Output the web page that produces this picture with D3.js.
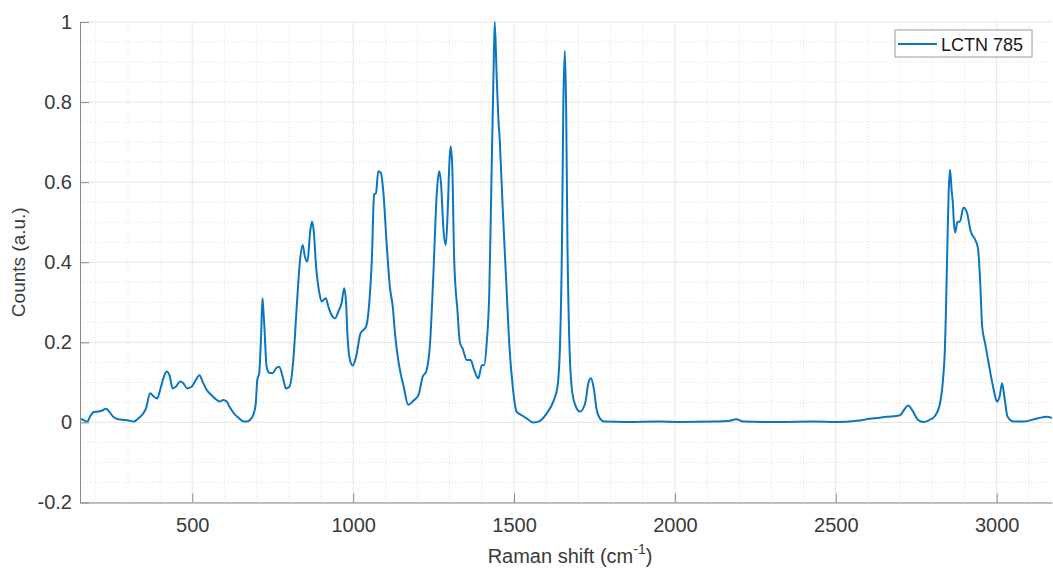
<!DOCTYPE html>
<html>
<head>
<meta charset="utf-8">
<script src="https://cdn.jsdelivr.net/npm/d3@7"></script>
<style>
  body { margin: 0; background: #fff; }
  svg { display: block; font-family: "Liberation Sans", Arial, Helvetica, sans-serif; }
</style>
</head>
<body>
<svg width="1053" height="570"></svg>
<script>
// Raman shift (cm-1) and normalised counts
const shift = [151, 161, 174, 182, 194, 208, 218, 232, 242, 254, 270, 291, 306, 319, 332, 348, 356, 369, 381, 391,
  400, 410, 420, 429, 439, 449, 462, 472, 484, 498, 511, 522, 532, 545, 560, 576, 586, 596, 607, 617,
  630, 643, 657, 669, 679, 690, 697, 702, 708, 714, 718, 721, 724, 731, 739, 750, 760, 770, 781, 791,
  802, 814, 824, 835, 843, 850, 858, 866, 872, 878, 884, 895, 902, 915, 923, 933, 944, 954, 964, 972,
  978, 982, 990, 999, 1009, 1023, 1032, 1040, 1050, 1058, 1065, 1071, 1078, 1086, 1094, 1104, 1114, 1123, 1130, 1140,
  1148, 1156, 1171, 1187, 1203, 1216, 1227, 1239, 1249, 1260, 1267, 1273, 1280, 1288, 1294, 1299, 1303, 1308, 1314, 1324,
  1332, 1340, 1353, 1365, 1376, 1389, 1400, 1407, 1415, 1423, 1430, 1436, 1440, 1446, 1451, 1456, 1465, 1475, 1485, 1496,
  1508, 1524, 1539, 1560, 1581, 1601, 1622, 1635, 1643, 1649, 1653, 1658, 1662, 1666, 1672, 1679, 1690, 1705, 1721, 1731,
  1739, 1747, 1757, 1767, 1780, 1850, 1950, 2016, 2119, 2171, 2190, 2213, 2327, 2430, 2503, 2565, 2606, 2658, 2700, 2712,
  2725, 2738, 2756, 2772, 2791, 2808, 2824, 2834, 2839, 2842, 2847, 2851, 2855, 2860, 2864, 2867, 2871, 2878, 2886, 2897,
  2908, 2919, 2934, 2942, 2949, 2955, 2964, 2975, 2991, 3001, 3009, 3017, 3024, 3034, 3053, 3084, 3126, 3157, 3175]
const counts = [0.01, 0.006, 0.002, 0.014, 0.026, 0.027, 0.029, 0.034, 0.027, 0.014, 0.008, 0.006, 0.004, 0.002, 0.01, 0.023, 0.035, 0.073, 0.064, 0.06,
  0.081, 0.11, 0.127, 0.118, 0.085, 0.089, 0.102, 0.098, 0.085, 0.089, 0.106, 0.118, 0.102, 0.081, 0.068, 0.056, 0.052, 0.056, 0.052, 0.037,
  0.022, 0.012, 0.003, 0.002, 0.006, 0.02, 0.045, 0.106, 0.123, 0.22, 0.31, 0.28, 0.239, 0.139, 0.124, 0.123, 0.135, 0.139, 0.114, 0.085,
  0.089, 0.156, 0.281, 0.406, 0.443, 0.414, 0.402, 0.473, 0.502, 0.473, 0.398, 0.323, 0.302, 0.31, 0.289, 0.268, 0.26, 0.277, 0.298, 0.335,
  0.298, 0.223, 0.156, 0.142, 0.164, 0.223, 0.231, 0.239, 0.298, 0.406, 0.568, 0.573, 0.627, 0.623, 0.573, 0.448, 0.339, 0.289, 0.223, 0.156,
  0.12, 0.093, 0.044, 0.054, 0.068, 0.114, 0.127, 0.198, 0.364, 0.573, 0.627, 0.598, 0.489, 0.443, 0.531, 0.648, 0.689, 0.639, 0.406, 0.281,
  0.198, 0.185, 0.156, 0.156, 0.131, 0.11, 0.143, 0.143, 0.198, 0.323, 0.614, 0.864, 1.0, 0.864, 0.764, 0.698, 0.531, 0.364, 0.198, 0.089,
  0.027, 0.018, 0.01, 0.0, 0.004, 0.022, 0.052, 0.089, 0.198, 0.448, 0.78, 0.928, 0.78, 0.448, 0.198, 0.089, 0.044, 0.027, 0.048, 0.098,
  0.11, 0.089, 0.031, 0.01, 0.002, 0.001, 0.002, 0.001, 0.002, 0.004, 0.008, 0.002, 0.001, 0.002, 0.001, 0.004, 0.009, 0.014, 0.018, 0.031,
  0.042, 0.03, 0.006, 0.001, 0.006, 0.016, 0.048, 0.114, 0.181, 0.264, 0.45, 0.58, 0.631, 0.58, 0.545, 0.5, 0.474, 0.5, 0.502, 0.537,
  0.523, 0.478, 0.455, 0.435, 0.348, 0.239, 0.198, 0.148, 0.081, 0.052, 0.064, 0.098, 0.064, 0.014, 0.002, 0.002, 0.01, 0.014, 0.01]

const xTicks = [500, 1000, 1500, 2000, 2500, 3000]
const yTicks = [-0.2, 0, 0.2, 0.4, 0.6, 0.8, 1]
const seriesName = 'LCTN 785'

const svg = d3.select('svg')
const plotLeft = 80
const plotRight = 1052
const plotTop = 22
const plotBottom = 502.5

const xScale = d3.scaleLinear()
  .domain([151, 3172])
  .range([plotLeft, plotRight])

const yScale = d3.scaleLinear()
  .domain([-0.2, 1])
  .range([plotBottom, plotTop])

// minor grid (dotted): every 100 cm-1 and every 0.05
const xMinor = d3.range(200, 3200, 100).filter(d => d % 500 !== 0 && xScale(d) <= plotRight)
const yMinor = d3.range(-3, 20).filter(k => k % 4 !== 0).map(k => k * 0.05)

const grid = svg.append('g').attr('class', 'grid')

grid.selectAll('.xminor')
  .data(xMinor)
  .enter().append('line')
  .attr('x1', d => xScale(d)).attr('x2', d => xScale(d))
  .attr('y1', plotTop).attr('y2', plotBottom)
  .style('stroke', '#e2e2e2')
  .style('stroke-dasharray', '1,2')

grid.selectAll('.yminor')
  .data(yMinor)
  .enter().append('line')
  .attr('x1', plotLeft).attr('x2', plotRight)
  .attr('y1', d => yScale(d)).attr('y2', d => yScale(d))
  .style('stroke', '#e2e2e2')
  .style('stroke-dasharray', '1,2')

// major grid
grid.selectAll('.xmajor')
  .data(xTicks)
  .enter().append('line')
  .attr('x1', d => xScale(d)).attr('x2', d => xScale(d))
  .attr('y1', plotTop).attr('y2', plotBottom)
  .style('stroke', '#e6e6e6')

grid.selectAll('.ymajor')
  .data(yTicks)
  .enter().append('line')
  .attr('x1', plotLeft).attr('x2', plotRight)
  .attr('y1', d => yScale(d)).attr('y2', d => yScale(d))
  .style('stroke', '#e6e6e6')

// spectrum
svg.append('clipPath').attr('id', 'plot-clip')
  .append('rect')
  .attr('x', plotLeft).attr('y', plotTop - 2)
  .attr('width', plotRight - plotLeft).attr('height', plotBottom - plotTop + 2)

const line = d3.line()
  .x(i => xScale(shift[i]))
  .y(i => yScale(counts[i]))
  .curve(d3.curveMonotoneX)

svg.append('path')
  .attr('clip-path', 'url(#plot-clip)')
  .attr('d', line(d3.range(shift.length)))
  .style('fill', 'none')
  .style('stroke', '#0a76c2')
  .style('stroke-width', 2)
  .style('stroke-linejoin', 'round')

// axes (ticks point inward, MATLAB style)
const xAxis = svg.append('g')
  .attr('transform', `translate(0,${plotBottom})`)
  .call(d3.axisBottom(xScale).tickValues(xTicks).tickSizeInner(-9).tickSizeOuter(0).tickPadding(15)
    .tickFormat(d3.format('d')))

const yAxis = svg.append('g')
  .attr('transform', `translate(${plotLeft},0)`)
  .call(d3.axisLeft(yScale).tickValues(yTicks).tickSizeInner(-9).tickSizeOuter(0).tickPadding(8)
    .tickFormat(d => d === 0 ? '0' : String(+d.toFixed(1))))

;[xAxis, yAxis].forEach(ax => {
  ax.select('.domain').style('stroke', '#8a8a8a')
  ax.selectAll('.tick line').style('stroke', '#8a8a8a')
  ax.selectAll('.tick text')
    .style('font-family', '"Liberation Sans", Arial, sans-serif')
    .style('font-size', '20px')
    .style('fill', '#3a3a3a')
})

// axis labels
const xLabel = svg.append('text')
  .attr('x', 570)
  .attr('y', 563)
  .style('text-anchor', 'middle')
  .style('font-size', '20px')
  .style('fill', '#3a3a3a')
xLabel.append('tspan').text('Raman shift (cm')
xLabel.append('tspan').attr('dy', -9).style('font-size', '14px').text('-1')
xLabel.append('tspan').attr('dy', 9).text(')')

svg.append('text')
  .attr('transform', `translate(25,${(plotTop + plotBottom) / 2}) rotate(-90)`)
  .style('text-anchor', 'middle')
  .style('font-size', '19px')
  .style('fill', '#3a3a3a')
  .text('Counts (a.u.)')

// legend
const legend = svg.append('g').attr('class', 'legend')
legend.append('rect')
  .attr('x', 895).attr('y', 30)
  .attr('width', 137).attr('height', 27)
  .style('fill', '#ffffff')
  .style('stroke', '#9a9a9a')
legend.append('line')
  .attr('x1', 898).attr('x2', 937)
  .attr('y1', 44).attr('y2', 44)
  .style('stroke', '#0a76c2')
  .style('stroke-width', 2)
legend.append('text')
  .attr('x', 941)
  .attr('y', 50.5)
  .style('font-size', '18px')
  .style('fill', '#1a1a1a')
  .text(seriesName)
</script>
</body>
</html>
